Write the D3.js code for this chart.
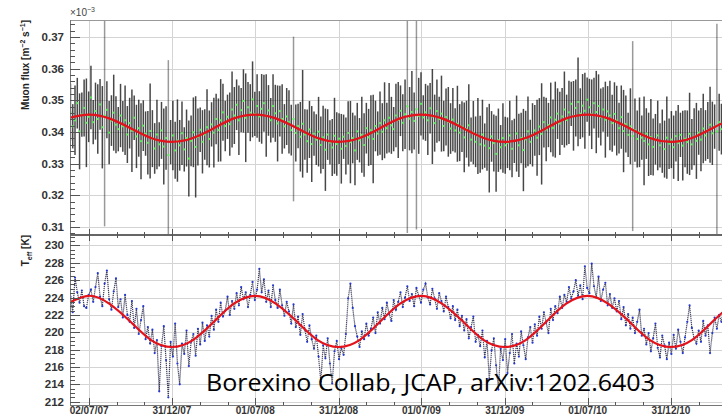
<!DOCTYPE html>
<html lang="en">
  <head>
      <meta charset="utf-8">
      <title>Muon flux and effective temperature</title>
      <script type="text/javascript" src="https://cdn.jsdelivr.net/npm/d3@7"></script>
      <style type="text/css">
            body { margin: 0; background: #fff; }
            .grid line { stroke: #d4d4d4; stroke-width: 1; shape-rendering: crispEdges; }
            .axis line, .axis path { stroke: #555; shape-rendering: crispEdges; }
            .lbl { font-family: "Liberation Sans", Arial, sans-serif; font-weight: bold; fill: #333; }
      </style>
  </head>
  <body>
      <script type="text/javascript">
        var w = 722;
        var h = 415;

        // data sampled every 5 days starting 22/05/07
        var startDate = "2007-05-22";
        var stepDays = 5;

        // muon flux, axis units (x10^-3 m^-2 s^-1)
        var flux = [
          0.3462, 0.3418, 0.3437, 0.3491, 0.3402, 0.3455, 0.3476, 0.3429, 0.3448, 0.3509, 0.3431, 0.3466,
          0.3441, 0.3487, 0.3415, 0.3452, 0.3470, 0.3398, 0.3436, 0.3461, 0.3423, 0.3409, 0.3452, 0.3418,
          0.3437, 0.3392, 0.3428, 0.3404, 0.3445, 0.3386, 0.3412, 0.3371, 0.3420, 0.3395, 0.3366, 0.3403,
          0.3379, 0.3348, 0.3392, 0.3361, 0.3405, 0.3354, 0.3381, 0.3327, 0.3368, 0.3389, 0.3342, 0.3373,
          0.3358, 0.3396, 0.3345, 0.3381, 0.3316, 0.3372, 0.3399, 0.3353, 0.3384, 0.3407, 0.3369, 0.3392,
          0.3415, 0.3378, 0.3424, 0.3398, 0.3441, 0.3406, 0.3437, 0.3462, 0.3419, 0.3448, 0.3425, 0.3471,
          0.3452, 0.3486, 0.3437, 0.3469, 0.3498, 0.3445, 0.3478, 0.3461, 0.3503, 0.3457, 0.3482, 0.3449,
          0.3473, 0.3491, 0.3452, 0.3468, 0.3437, 0.3482, 0.3459, 0.3427, 0.3466, 0.3441, 0.3418, 0.3449,
          0.3432, 0.3406, 0.3441, 0.3397, 0.3419, 0.3385, 0.3426, 0.3392, 0.3371, 0.3408, 0.3362, 0.3395,
          0.3376, 0.3401, 0.3359, 0.3383, 0.3344, 0.3392, 0.3367, 0.3351, 0.3388, 0.3362, 0.3379, 0.3347,
          0.3385, 0.3356, 0.3397, 0.3368, 0.3381, 0.3342, 0.3402, 0.3374, 0.3391, 0.3359, 0.3412, 0.3383,
          0.3406, 0.3378, 0.3419, 0.3395, 0.3428, 0.3401, 0.3437, 0.3412, 0.3445, 0.3421, 0.3409, 0.3452,
          0.3438, 0.3467, 0.3429, 0.3456, 0.3481, 0.3442, 0.3463, 0.3435, 0.3472, 0.3451, 0.3489, 0.3446,
          0.3462, 0.3437, 0.3475, 0.3449, 0.3428, 0.3466, 0.3441, 0.3458, 0.3419, 0.3447, 0.3432, 0.3411,
          0.3439, 0.3405, 0.3426, 0.3398, 0.3417, 0.3383, 0.3409, 0.3421, 0.3376, 0.3398, 0.3369, 0.3387,
          0.3361, 0.3392, 0.3357, 0.3378, 0.3349, 0.3386, 0.3365, 0.3331, 0.3374, 0.3352, 0.3381, 0.3358,
          0.3366, 0.3389, 0.3347, 0.3372, 0.3395, 0.3358, 0.3381, 0.3343, 0.3377, 0.3402, 0.3369, 0.3391,
          0.3405, 0.3382, 0.3417, 0.3394, 0.3431, 0.3408, 0.3422, 0.3446, 0.3413, 0.3439, 0.3458, 0.3427,
          0.3449, 0.3471, 0.3438, 0.3462, 0.3489, 0.3451, 0.3476, 0.3495, 0.3458, 0.3483, 0.3467, 0.3502,
          0.3478, 0.3456, 0.3491, 0.3463, 0.3482, 0.3447, 0.3471, 0.3439, 0.3465, 0.3452, 0.3428, 0.3457,
          0.3436, 0.3412, 0.3447, 0.3403, 0.3425, 0.3391, 0.3418, 0.3387, 0.3406, 0.3378, 0.3399, 0.3382,
          0.3372, 0.3395, 0.3361, 0.3384, 0.3353, 0.3377, 0.3389, 0.3358, 0.3371, 0.3346, 0.3382, 0.3363,
          0.3376, 0.3352, 0.3387, 0.3365, 0.3391, 0.3357, 0.3379, 0.3368, 0.3394, 0.3361, 0.3385, 0.3372,
          0.3398, 0.3376, 0.3411, 0.3389, 0.3405, 0.3423, 0.3396, 0.3417, 0.3402, 0.3431, 0.3409, 0.3426
        ];

        // flux errors in units of 0.001 (axis units)
        var fluxErr = [
          9,7,11,8,12,7,9,14,8,10,7,9,11,8,13,35,9,10,8,12,9,7,10,8,
          11,9,8,13,7,10,9,12,8,7,10,15,9,8,11,7,9,12,10,30,7,11,9,13,
          8,10,7,9,12,8,11,16,9,7,10,8,12,9,7,11,8,10,13,9,8,7,10,12,
          9,8,11,7,10,14,8,9,12,7,10,8,11,9,13,8,7,10,9,12,8,11,7,9,
          10,8,26,9,7,11,17,8,10,9,12,7,8,11,9,10,13,8,7,9,12,10,8,11,
          7,9,10,13,8,11,9,7,12,10,8,9,11,14,8,7,10,9,12,8,11,9,7,10,
          12,8,9,11,40,10,13,9,38,12,10,7,9,11,8,15,9,10,7,12,8,9,11,8,
          10,7,12,9,8,11,9,13,7,10,8,12,9,11,7,10,14,8,9,12,10,7,11,9,
          8,11,9,7,12,10,8,13,9,11,7,10,8,12,9,16,8,10,7,11,9,12,8,10,
          9,12,8,10,7,11,9,14,8,10,12,7,9,11,8,13,10,9,7,12,8,11,9,10,
          11,8,10,13,9,7,12,30,10,9,11,7,14,8,10,12,9,8,11,7,10,9,13,8,
          9,10,8,12,7,11,9,10,13,8,9,12,7,10,11,8,9,12,10,7,34,9,8,10
        ];

        // effective temperature [K]
        var teff = [
          224.1, 222.3, 226.3, 224.6, 223.4, 224.8, 223.0, 222.8, 224.3, 224.9, 223.5, 225.2,
          226.8, 224.1, 223.0, 225.6, 227.1, 223.8, 222.6, 224.7, 226.2, 222.9, 223.8, 221.7,
          224.3, 222.0, 221.2, 223.6, 220.5, 222.7, 219.8, 221.4, 223.0, 219.2, 220.6, 218.7,
          220.3, 217.6, 219.1, 213.2, 218.4, 220.7, 216.8, 212.5, 218.9, 217.2, 221.0, 216.4,
          214.0, 218.7, 217.5, 220.2, 216.1, 218.9, 219.8, 217.3, 220.4, 218.6, 221.1, 219.0,
          220.8, 219.5, 221.9, 220.3, 222.6, 221.2, 223.4, 221.8, 222.5, 224.1, 222.0, 223.6,
          222.7, 224.5, 223.1, 225.2, 223.8, 224.6, 222.9, 224.3, 225.8, 223.7, 224.9, 227.3,
          224.6, 226.1, 223.5, 224.8, 222.9, 225.4, 223.7, 222.8, 224.9, 223.1, 221.9, 223.5,
          222.4, 221.0, 223.2, 220.6, 221.8, 219.7, 222.1, 220.3, 218.9, 220.8, 219.2, 218.1,
          219.6, 217.2, 214.3, 218.5, 217.0, 219.3, 216.4, 214.1, 217.8, 219.0, 216.9, 218.2,
          217.4, 219.8, 223.9, 225.6, 222.8, 220.7, 219.5, 218.3, 220.1, 219.2, 221.0, 219.6,
          220.4, 221.7, 219.9, 222.3, 221.0, 222.8, 221.5, 223.4, 222.1, 221.3, 223.7, 222.6,
          223.5, 224.6, 222.9, 224.0, 225.3, 223.6, 224.4, 223.0, 225.1, 224.2, 223.4, 224.9,
          225.6, 224.0, 223.2, 225.0, 223.9, 222.7, 224.5, 223.6, 222.4, 224.1, 222.9, 221.6,
          223.0, 221.4, 222.6, 220.7, 221.9, 220.2, 221.5, 219.3, 220.6, 221.8, 218.9, 219.7,
          218.4, 220.2, 217.1, 219.0, 214.6, 217.9, 219.3, 216.2, 213.4, 218.1, 216.8, 219.2,
          215.3, 217.6, 219.8, 216.4, 218.7, 217.2, 220.1, 218.5, 216.9, 219.4, 220.6, 218.8,
          220.9, 219.6, 221.8, 220.4, 222.3, 221.1, 219.9, 222.7, 221.4, 223.0, 222.2, 224.1,
          222.8, 224.3, 223.5, 225.2, 223.9, 224.7, 226.0, 224.2, 225.4, 223.8, 227.6, 225.1,
          224.5, 227.9, 225.3, 224.0, 226.4, 223.6, 224.9, 225.7, 223.1, 224.4, 222.8, 223.9,
          222.4, 223.6, 221.5, 222.9, 220.8, 222.1, 220.4, 221.7, 219.9, 221.2, 222.6, 219.6,
          220.4, 218.6, 219.9, 217.8, 219.3, 221.0, 218.2, 217.1, 219.6, 218.5, 216.9, 218.8,
          217.5, 219.7, 218.1, 220.3, 218.9, 217.6, 219.4, 221.2, 223.1, 220.5, 219.3, 218.7,
          220.2, 218.9, 221.3, 219.6, 220.8, 217.6, 219.9, 221.7, 220.4, 222.0, 221.2, 222.8
        ];

        // red fit curves, values read at ~1.5 month nodes
        var fitDates = [
          "2007-05-15", "2007-07-01", "2007-08-15", "2007-10-01", "2007-11-15", "2007-12-31",
          "2008-02-15", "2008-04-01", "2008-05-15", "2008-07-01", "2008-08-15", "2008-10-01", "2008-11-15", "2008-12-31",
          "2009-02-15", "2009-04-01", "2009-05-15", "2009-07-01", "2009-08-15", "2009-10-01", "2009-11-15", "2009-12-31",
          "2010-02-15", "2010-04-01", "2010-05-15", "2010-07-01", "2010-08-15", "2010-10-01", "2010-11-15", "2010-12-31",
          "2011-02-15", "2011-04-01", "2011-05-15"
        ];
        var fitFlux = [
          0.3443, 0.3455, 0.3443, 0.3412, 0.3381, 0.3369,
          0.3381, 0.3412, 0.3443, 0.3455, 0.3443, 0.3412, 0.3381, 0.3369,
          0.3381, 0.3412, 0.3443, 0.3455, 0.3443, 0.3412, 0.3381, 0.3369,
          0.3381, 0.3412, 0.3443, 0.3455, 0.3443, 0.3412, 0.3381, 0.3369,
          0.3381, 0.3412, 0.3443
        ];
        var fitTeff = [
          223.3, 224.2, 223.3, 221.2, 219.1, 218.3,
          219.1, 221.2, 223.3, 224.2, 223.3, 221.2, 219.1, 218.3,
          219.1, 221.2, 223.3, 224.2, 223.3, 221.2, 219.1, 218.3,
          219.1, 221.2, 223.3, 224.2, 223.3, 221.2, 219.1, 218.3,
          219.1, 221.2, 223.3
        ];

        var tickDates = ["2007-07-02", "2007-12-31", "2008-07-01", "2008-12-31", "2009-07-01", "2009-12-31", "2010-07-01", "2010-12-31"];
        var tickLabels = ["02/07/07", "31/12/07", "01/07/08", "31/12/08", "01/07/09", "31/12/09", "01/07/10", "31/12/10"];
        var fluxTicks = [0.31, 0.32, 0.33, 0.34, 0.35, 0.36, 0.37];
        var teffTicks = [212, 214, 216, 218, 220, 222, 224, 226, 228, 230];

        var parse = d3.utcParse("%Y-%m-%d");
        var t0 = parse(startDate);
        var dates = flux.map(function(d, i) { return d3.utcDay.offset(t0, i * stepDays); });

        var left = 70, topY = 20, midY = 235, botY = 405;

        var xScale = d3.scaleUtc()
            .domain([parse("2007-05-21"), parse("2011-05-01")])
            .range([left, 726]);

        var yTop = d3.scaleLinear().domain([0.30747, 0.37537]).range([midY, topY]);
        var yBot = d3.scaleLinear().domain([211.62, 231.2]).range([botY, midY]);

        var svg = d3.select("body").append("svg")
            .attr("width", w)
            .attr("height", h);

        var defs = svg.append("defs");
        defs.append("clipPath").attr("id", "clipTop").append("rect")
            .attr("x", left).attr("y", topY).attr("width", w - left).attr("height", midY - topY);
        defs.append("clipPath").attr("id", "clipBot").append("rect")
            .attr("x", left).attr("y", midY).attr("width", w - left).attr("height", botY - midY);

        // grids
        var majorDates = tickDates.map(parse);
        var grid = svg.append("g").attr("class", "grid");
        grid.selectAll(".vg").data(majorDates).enter().append("line")
            .attr("x1", function(d) { return Math.round(xScale(d)) + 0.5; })
            .attr("x2", function(d) { return Math.round(xScale(d)) + 0.5; })
            .attr("y1", topY).attr("y2", botY);
        grid.selectAll(".hgt").data(fluxTicks).enter().append("line")
            .attr("x1", left).attr("x2", w)
            .attr("y1", function(d) { return Math.round(yTop(d)) + 0.5; })
            .attr("y2", function(d) { return Math.round(yTop(d)) + 0.5; });
        grid.selectAll(".hgb").data(teffTicks).enter().append("line")
            .attr("x1", left).attr("x2", w)
            .attr("y1", function(d) { return Math.round(yBot(d)) + 0.5; })
            .attr("y2", function(d) { return Math.round(yBot(d)) + 0.5; });

        // top panel: error bars + green points
        var gTop = svg.append("g").attr("clip-path", "url(#clipTop)");
        gTop.selectAll("line").data(flux).enter().append("line")
            .attr("x1", function(d, i) { return xScale(dates[i]); })
            .attr("x2", function(d, i) { return xScale(dates[i]); })
            .attr("y1", function(d, i) { return yTop(d - fluxErr[i] / 1000); })
            .attr("y2", function(d, i) { return yTop(d + fluxErr[i] / 1000); })
            .attr("stroke", "#000")
            .attr("stroke-opacity", function(d, i) { return fluxErr[i] > 20 ? 0.4 : 0.72; })
            .attr("stroke-width", 1.5);
        gTop.selectAll("rect").data(flux).enter().append("rect")
            .attr("x", function(d, i) { return xScale(dates[i]) - 1; })
            .attr("y", function(d) { return yTop(d) - 1; })
            .attr("width", 2).attr("height", 2)
            .attr("fill", "#55ee55");

        var fitLineTop = d3.line()
            .curve(d3.curveNatural)
            .x(function(d, i) { return xScale(parse(fitDates[i])); })
            .y(function(d) { return yTop(d); });
        gTop.append("path")
            .datum(fitFlux)
            .attr("d", fitLineTop)
            .attr("fill", "none")
            .attr("stroke", "#e3121b")
            .attr("stroke-width", 2.2);

        // bottom panel: T_eff
        var gBot = svg.append("g").attr("clip-path", "url(#clipBot)");
        var tLine = d3.line()
            .x(function(d, i) { return xScale(dates[i]); })
            .y(function(d) { return yBot(d); });
        gBot.append("path")
            .datum(teff)
            .attr("d", tLine)
            .attr("fill", "none")
            .attr("stroke", "#1a1a40")
            .attr("stroke-width", 1.2)
            .attr("stroke-dasharray", "1.2,0.8")
            .attr("stroke-opacity", 0.85);
        gBot.selectAll("circle").data(teff).enter().append("circle")
            .attr("cx", function(d, i) { return xScale(dates[i]); })
            .attr("cy", function(d) { return yBot(d); })
            .attr("r", 1.1)
            .attr("fill", "#2438d0");

        var fitLineBot = d3.line()
            .curve(d3.curveNatural)
            .x(function(d, i) { return xScale(parse(fitDates[i])); })
            .y(function(d) { return yBot(d); });
        gBot.append("path")
            .datum(fitTeff)
            .attr("d", fitLineBot)
            .attr("fill", "none")
            .attr("stroke", "#e3121b")
            .attr("stroke-width", 2.2);

        // frame / axes
        var ax = svg.append("g").attr("class", "axis");
        ax.append("line").attr("x1", left).attr("x2", w).attr("y1", topY + 0.5).attr("y2", topY + 0.5).style("stroke", "#999");
        ax.append("line").attr("x1", left + 0.5).attr("x2", left + 0.5).attr("y1", topY).attr("y2", botY).style("stroke", "#777");
        ax.append("line").attr("x1", left).attr("x2", w).attr("y1", midY).attr("y2", midY).style("stroke-width", 1.6).style("stroke", "#666");
        ax.append("line").attr("x1", left).attr("x2", w).attr("y1", botY + 0.5).attr("y2", botY + 0.5).style("stroke", "#777");

        // x ticks: majors plus two minors in between
        var minorDates = [];
        for (var k = 0; k < majorDates.length; k++) {
          var a = majorDates[k], b = k < majorDates.length - 1 ? majorDates[k + 1] : d3.utcDay.offset(majorDates[k], 182);
          var span = b - a;
          minorDates.push(new Date(+a + span / 3), new Date(+a + 2 * span / 3));
          if (k === 0) { minorDates.push(new Date(+a - span / 3)); }
        }
        [midY, botY].forEach(function(yy) {
          var up = yy === midY ? 6 : 7, dn = yy === midY ? 6 : 0;
          ax.selectAll(null).data(majorDates).enter().append("line")
              .attr("x1", function(d) { return Math.round(xScale(d)) + 0.5; })
              .attr("x2", function(d) { return Math.round(xScale(d)) + 0.5; })
              .attr("y1", yy - up).attr("y2", yy + dn);
          ax.selectAll(null).data(minorDates.filter(function(d) { return xScale(d) > left && xScale(d) < w; })).enter().append("line")
              .attr("x1", function(d) { return Math.round(xScale(d)) + 0.5; })
              .attr("x2", function(d) { return Math.round(xScale(d)) + 0.5; })
              .attr("y1", yy - up / 2).attr("y2", yy + dn / 2);
        });

        // y ticks
        var fluxMinor = d3.range(0.308, 0.3754, 0.002);
        ax.selectAll(null).data(fluxMinor).enter().append("line")
            .attr("x1", left).attr("x2", function(d) { return Math.abs(d * 100 - Math.round(d * 100)) < 1e-6 ? left + 10 : left + 5; })
            .attr("y1", function(d) { return Math.round(yTop(d)) + 0.5; })
            .attr("y2", function(d) { return Math.round(yTop(d)) + 0.5; });
        var teffMinor = d3.range(212, 231.1, 0.5);
        ax.selectAll(null).data(teffMinor).enter().append("line")
            .attr("x1", left).attr("x2", function(d) { return d % 2 === 0 ? left + 10 : left + 5; })
            .attr("y1", function(d) { return Math.round(yBot(d)) + 0.5; })
            .attr("y2", function(d) { return Math.round(yBot(d)) + 0.5; });

        svg.selectAll(".ftl").data(fluxTicks).enter().append("text")
            .attr("class", "lbl")
            .attr("x", 64).attr("y", function(d) { return yTop(d) + 4; })
            .attr("text-anchor", "end")
            .style("font-size", "11.5px")
            .text(function(d) { return d.toFixed(2); });
        svg.selectAll(".ttl").data(teffTicks).enter().append("text")
            .attr("class", "lbl")
            .attr("x", 64).attr("y", function(d) { return yBot(d) + 4; })
            .attr("text-anchor", "end")
            .style("font-size", "11.5px")
            .text(function(d) { return d; });
        svg.selectAll(".xtl").data(majorDates).enter().append("text")
            .attr("class", "lbl")
            .attr("x", function(d) { return xScale(d); })
            .attr("y", 414)
            .attr("text-anchor", "middle")
            .style("font-size", "10px")
            .text(function(d, i) { return tickLabels[i]; });

        // exponent label
        var ex = svg.append("text").attr("class", "lbl").attr("x", 70).attr("y", 16)
            .style("font-size", "10px").style("font-weight", "normal").style("fill", "#444");
        ex.append("tspan").text("\u00d710");
        ex.append("tspan").attr("dy", -4).style("font-size", "7px").text("\u22123");

        // axis titles
        var t1 = svg.append("text").attr("class", "lbl")
            .attr("transform", "translate(29,20) rotate(-90)")
            .attr("text-anchor", "end")
            .style("font-size", "10px").style("fill", "#222");
        t1.append("tspan").text("Muon flux [m");
        t1.append("tspan").attr("dy", -4).style("font-size", "7px").text("\u22122");
        t1.append("tspan").attr("dy", 4).text(" s");
        t1.append("tspan").attr("dy", -4).style("font-size", "7px").text("\u22121");
        t1.append("tspan").attr("dy", 4).text("]");

        var t2 = svg.append("text").attr("class", "lbl")
            .attr("transform", "translate(29,235) rotate(-90)")
            .attr("text-anchor", "end")
            .style("font-size", "10px").style("fill", "#222");
        t2.append("tspan").text("T");
        t2.append("tspan").attr("dy", 3).style("font-size", "7px").text("eff");
        t2.append("tspan").attr("dy", -3).text(" [K]");

        // citation overlay
        svg.append("text")
            .attr("x", 206).attr("y", 391)
            .attr("textLength", 449)
            .attr("lengthAdjust", "spacingAndGlyphs")
            .style("font-family", "'Open Sans', 'Noto Sans', sans-serif")
            .style("font-size", "24px")
            .style("fill", "#000")
            .text("Borexino Collab, JCAP, arXiv:1202.6403");
      </script>
  </body>
</html>
